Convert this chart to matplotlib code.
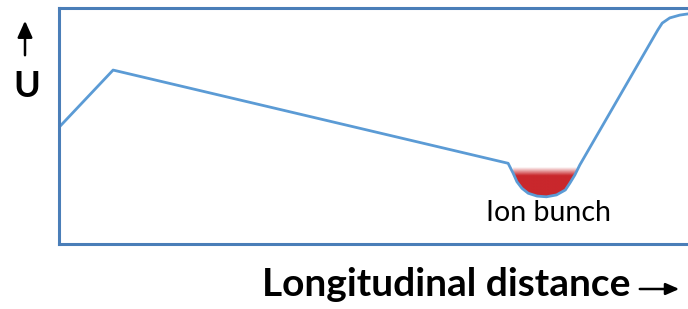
import numpy as np
import matplotlib.pyplot as plt
from matplotlib.colors import to_rgb

plt.rcParams['font.family'] = ['Lato', 'DejaVu Sans']

# potential along the trap (arbitrary units)
distance = [0.2, 8.6, 71.4, 72.2, 72.8, 73.6, 74.6, 76.0, 77.5, 79.1, 80.5,
            81.2, 82.0, 82.8, 95.2, 95.9, 97.1, 98.7, 100.0]
potential = [50.0, 73.7, 34.2, 30.0, 26.4, 23.6, 21.5, 20.3, 20.0, 20.8, 22.9,
             25.7, 29.2, 33.5, 90.7, 93.6, 95.8, 97.0, 97.5]

# ion bunch sitting in the well
bunch_x = [72.2, 72.8, 73.6, 74.6, 76.0, 77.5, 79.1, 80.5, 81.2, 82.0, 82.3]
bunch_bottom = [30.5, 26.4, 23.6, 21.5, 20.3, 20.0, 20.8, 22.9, 25.7, 29.2, 30.5]
bunch_top = 31.0
bunch_fade = 29.0

fig = plt.figure(figsize=(6.88, 3.09), dpi=100)
ax = fig.add_axes([59 / 688, 65 / 309, 1 - 59 / 688, (244 - 8) / 309])
ax.set_xlim(0, 100)
ax.set_ylim(0, 100)

box = '#4a7eb8'
for s in ['left', 'top', 'bottom']:
    ax.spines[s].set_color(box)
    ax.spines[s].set_linewidth(2.2)
ax.spines['right'].set_visible(False)
ax.set_xticks([])
ax.set_yticks([])

# red bunch with a soft top edge
poly = ax.fill_between(bunch_x, bunch_bottom, bunch_top + 2, color='none', lw=0)
red = np.array(to_rgb('#c9272c'))
ytop = bunch_top + 1.5
yy = np.linspace(ytop, min(bunch_bottom), 200)
alpha = np.clip((ytop - yy) / (ytop - bunch_fade), 0, 1)
img = np.zeros((len(yy), 2, 4))
img[..., :3] = red
img[..., 3] = alpha[:, None]
im = ax.imshow(img, extent=[min(bunch_x), max(bunch_x), min(bunch_bottom), ytop],
               origin='upper', aspect='auto', interpolation='bilinear', zorder=1)
im.set_clip_path(poly.get_paths()[0], transform=ax.transData)

ax.plot(distance, potential, color='#5b9bd5', lw=2.0, zorder=2, clip_on=False,
        solid_joinstyle='round')

ax.text(77.8, 9.7, 'Ion bunch', ha='center', va='baseline', fontsize=20.5)

# axis labels with arrows
fig.text(27 / 688, 1 - 97 / 309, 'U', ha='center', va='baseline', fontsize=26,
         fontweight='bold')
ax.annotate('', xy=(25 / 688, 1 - 18 / 309), xytext=(25 / 688, 1 - 58 / 309),
            xycoords='figure fraction', textcoords='figure fraction',
            arrowprops=dict(arrowstyle='-|>,head_width=0.45,head_length=1.0',
                            color='black', lw=1.8))
fig.text(446 / 688, 1 - 296 / 309, 'Longitudinal distance', ha='center',
         va='baseline', fontsize=28, fontweight='bold')
ax.annotate('', xy=(682 / 688, 1 - 289 / 309), xytext=(637 / 688, 1 - 289 / 309),
            xycoords='figure fraction', textcoords='figure fraction',
            arrowprops=dict(arrowstyle='-|>,head_width=0.35,head_length=0.8',
                            color='black', lw=1.8))

fig.savefig('out.png', dpi=100)
